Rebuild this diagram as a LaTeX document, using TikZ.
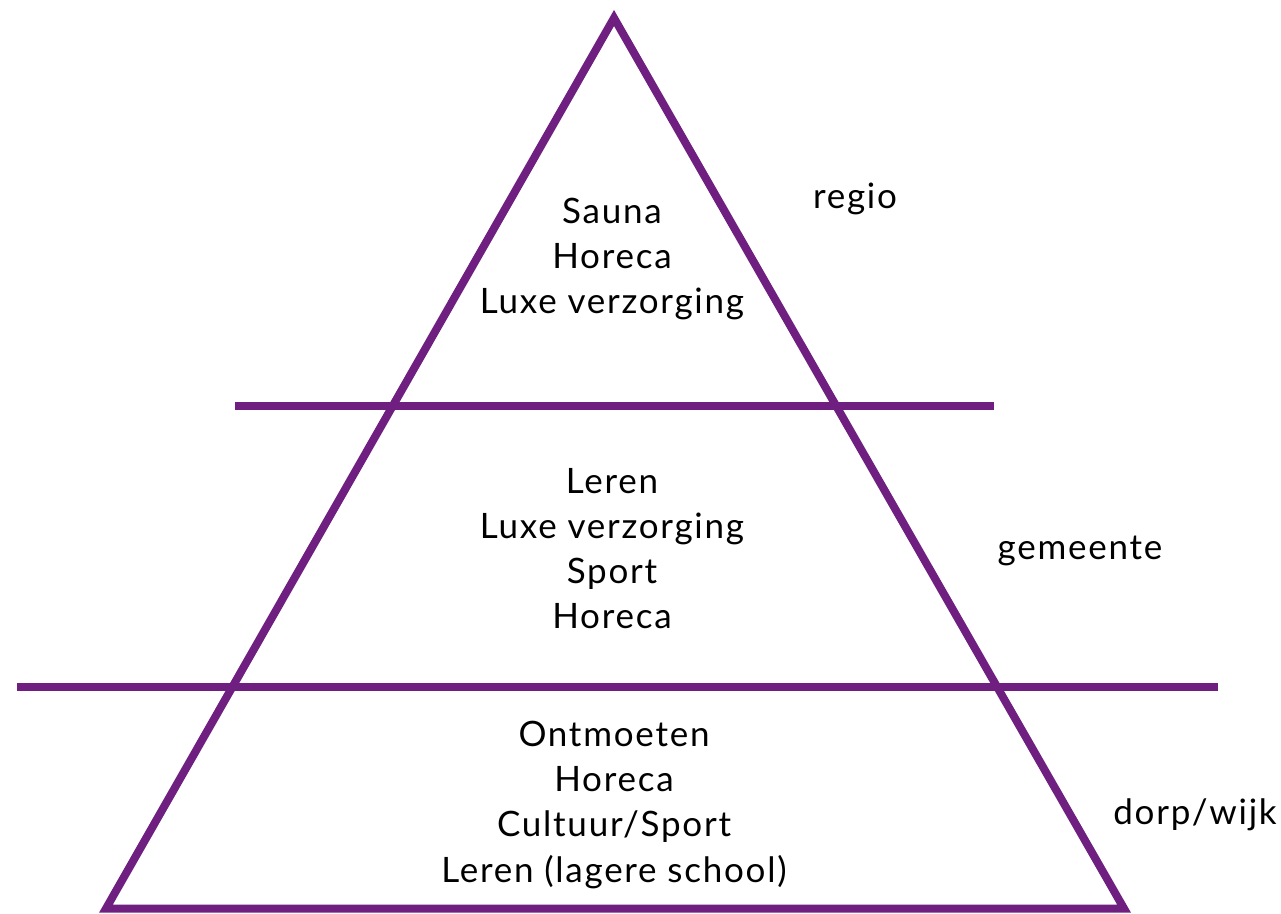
\documentclass[tikz,border=0pt]{standalone}
\usepackage{fontspec}
\setmainfont{Lato}[LetterSpace=5]
\definecolor{pyrpurple}{HTML}{6E1F80}
\begin{document}
\begin{tikzpicture}[x=1pt,y=-1pt,
  edge/.style={draw=pyrpurple,line width=8pt},
  block/.style={align=center,inner sep=0pt,font=\fontsize{35}{45}\selectfont},
  level/.style={inner sep=0pt,font=\fontsize{35}{45}\selectfont}]
\useasboundingbox (0,0) rectangle (1281,913);
\coordinate (apex) at (614,18);
\coordinate (bl) at (106,908.5);
\coordinate (br) at (1124,908.5);
\coordinate (h1a) at (235,406);
\coordinate (h1b) at (994,406);
\coordinate (h2a) at (17,687);
\coordinate (h2b) at (1218,687);
\draw[edge,line join=miter] (apex) -- (bl) -- (br) -- cycle;
\draw[edge] (h1a) -- (h1b);
\draw[edge] (h2a) -- (h2b);
\node[block] (top) at (612,259) {Sauna\\Horeca\\Luxe verzorging};
\node[block] (mid) at (612,549) {Leren\\Luxe verzorging\\Sport\\Horeca};
\node[block] (bot) at (614,805) {Ontmoeten\\Horeca\\Cultuur/Sport\\Leren (lagere school)};
\node[level] (regio) at (855,199) {regio};
\node[level] (gem) at (1080,551) {gemeente};
\node[level] (dorp) at (1195,815) {dorp/wijk};
\end{tikzpicture}
\end{document}
